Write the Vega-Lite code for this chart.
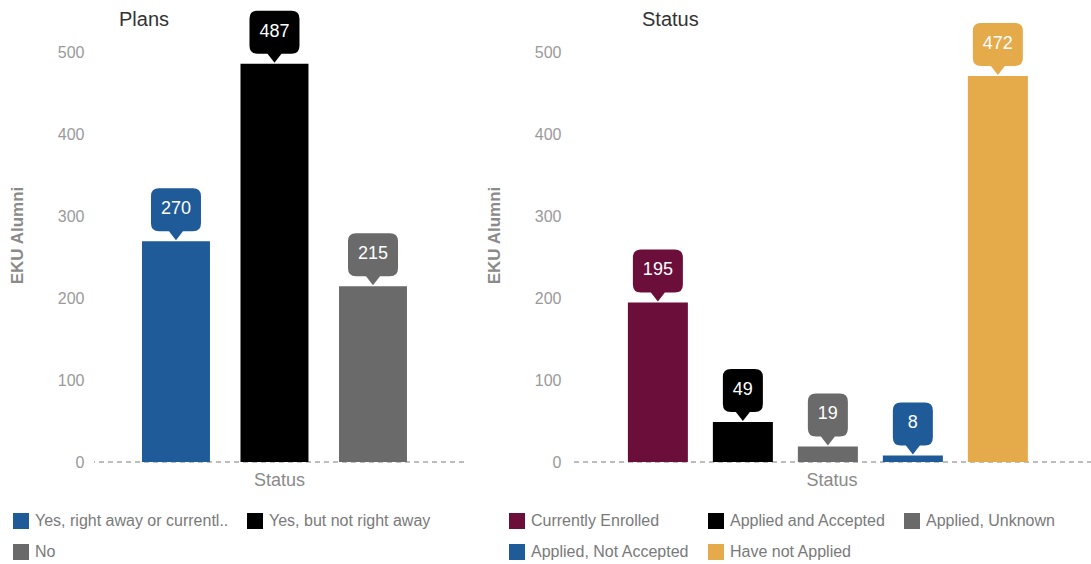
{
  "$schema": "https://vega.github.io/schema/vega-lite/v6.json",
  "background": "white",
  "padding": {"left": 8, "top": 8, "right": 0, "bottom": 0},
  "spacing": 20,
  "resolve": {"scale": {"color": "independent", "x": "independent", "y": "independent"}, "legend": {"color": "independent"}},
  "config": {
    "view": {"stroke": null},
    "font": "Liberation Sans",
    "axis": {"grid": false, "domain": false, "ticks": false, "labelColor": "#9a9a9a", "labelFontSize": 16, "titleColor": "#8a8a8a", "labelFont": "Liberation Sans", "titleFont": "Liberation Sans"},
    "axisY": {"titleFontWeight": "bold", "titleFontSize": 17, "labelPadding": 10, "titlePadding": 31},
    "axisX": {"labels": false, "titleFontWeight": "normal", "titleFontSize": 18, "titlePadding": 9, "titleColor": "#8a8a8a"},
    "legend": {"orient": "none", "direction": "horizontal", "gridAlign": "none", "symbolType": "square", "symbolSize": 256, "symbolStrokeWidth": 0, "symbolOpacity": 1, "labelFontSize": 16, "labelColor": "#7a7a7a", "labelFont": "Liberation Sans", "labelLimit": 400, "labelOffset": 6, "columnPadding": 18, "rowPadding": 15, "title": null},
    "title": {"fontSize": 20, "font": "Liberation Sans", "fontWeight": "normal", "color": "#333333", "anchor": "start", "frame": "group", "offset": -22}
  },
  "hconcat": [
    {
      "title": {"text": "Plans", "dx": 25},
      "width": 370,
      "height": 454,
      "data": {"values": [
        {"status": "Yes, right away or currentl..", "count": 270},
        {"status": "Yes, but not right away", "count": 487},
        {"status": "No", "count": 215}
      ]},
      "layer": [
        {
          "mark": {"type": "rule", "strokeDash": [5, 4], "color": "#bdbdbd", "strokeWidth": 1.5},
          "encoding": {"y": {"datum": 0, "type": "quantitative", "scale": {"domain": [0, 555], "nice": false}, "title": "EKU Alumni"}}
        },
        {
          "mark": {"type": "bar"},
          "encoding": {
            "x": {"field": "status", "type": "nominal", "sort": null, "title": "Status", "scale": {"paddingInner": 0.31, "paddingOuter": 0.533, "align": 0.457}},
            "y": {"field": "count", "type": "quantitative", "scale": {"domain": [0, 555], "nice": false}, "title": "EKU Alumni", "axis": {"values": [0, 100, 200, 300, 400, 500]}},
            "color": {"field": "status", "type": "nominal", "sort": null, "scale": {"domain": ["Yes, right away or currentl..", "Yes, but not right away", "No"], "range": ["#1f5b98", "#000000", "#6a6a6a"]}, "legend": {"columns": 2, "gridAlign": "none", "legendX": -81, "legendY": 505}}
          }
        },
        {
          "mark": {"type": "point", "filled": true, "opacity": 1, "strokeWidth": 0, "size": 2500},
          "encoding": {
            "x": {"field": "status", "type": "nominal", "sort": null, "title": "Status"},
            "y": {"field": "count", "type": "quantitative", "title": "EKU Alumni"},
            "color": {"field": "status", "type": "nominal", "legend": null},
            "shape": {"condition": {"test": "datum.count >= 100", "value": "M0,-0.04 L0.28,-0.4 L0.68,-0.4 Q1,-0.4 1,-0.72 L1,-1.8 Q1,-2.12 0.68,-2.12 L-0.68,-2.12 Q-1,-2.12 -1,-1.8 L-1,-0.72 Q-1,-0.4 -0.68,-0.4 L-0.28,-0.4 Z"}, "value": "M0,-0.04 L0.28,-0.4 L0.48,-0.4 Q0.8,-0.4 0.8,-0.72 L0.8,-1.8 Q0.8,-2.12 0.48,-2.12 L-0.48,-2.12 Q-0.8,-2.12 -0.8,-1.8 L-0.8,-0.72 Q-0.8,-0.4 -0.48,-0.4 L-0.28,-0.4 Z"}
          }
        },
        {
          "mark": {"type": "text", "color": "white", "dy": -32, "fontSize": 18, "baseline": "middle", "align": "center", "font": "Liberation Sans"},
          "encoding": {
            "x": {"field": "status", "type": "nominal", "sort": null, "title": "Status"},
            "y": {"field": "count", "type": "quantitative", "title": "EKU Alumni"},
            "text": {"field": "count", "type": "quantitative"}
          }
        }
      ]
    },
    {
      "title": {"text": "Status", "dx": 71},
      "width": 521,
      "height": 454,
      "data": {"values": [
        {"status": "Currently Enrolled", "count": 195},
        {"status": "Applied and Accepted", "count": 49},
        {"status": "Applied, Unknown", "count": 19},
        {"status": "Applied, Not Accepted", "count": 8},
        {"status": "Have not Applied", "count": 472}
      ]},
      "layer": [
        {
          "mark": {"type": "rule", "strokeDash": [5, 4], "color": "#bdbdbd", "strokeWidth": 1.5},
          "encoding": {"y": {"datum": 0, "type": "quantitative", "scale": {"domain": [0, 555], "nice": false}, "title": "EKU Alumni"}}
        },
        {
          "mark": {"type": "bar"},
          "encoding": {
            "x": {"field": "status", "type": "nominal", "sort": null, "title": "Status", "scale": {"paddingInner": 0.294, "paddingOuter": 0.712, "align": 0.47}},
            "y": {"field": "count", "type": "quantitative", "scale": {"domain": [0, 555], "nice": false}, "title": "EKU Alumni", "axis": {"values": [0, 100, 200, 300, 400, 500]}},
            "color": {"field": "status", "type": "nominal", "sort": null, "scale": {"domain": ["Currently Enrolled", "Applied and Accepted", "Applied, Unknown", "Applied, Not Accepted", "Have not Applied"], "range": ["#6b0f3a", "#000000", "#6a6a6a", "#1f5b98", "#e5aa4a"]}, "legend": {"columns": 3, "gridAlign": "none", "legendX": -62, "legendY": 505}}
          }
        },
        {
          "mark": {"type": "point", "filled": true, "opacity": 1, "strokeWidth": 0, "size": 2500},
          "encoding": {
            "x": {"field": "status", "type": "nominal", "sort": null, "title": "Status"},
            "y": {"field": "count", "type": "quantitative", "title": "EKU Alumni"},
            "color": {"field": "status", "type": "nominal", "legend": null},
            "shape": {"condition": {"test": "datum.count >= 100", "value": "M0,-0.04 L0.28,-0.4 L0.68,-0.4 Q1,-0.4 1,-0.72 L1,-1.8 Q1,-2.12 0.68,-2.12 L-0.68,-2.12 Q-1,-2.12 -1,-1.8 L-1,-0.72 Q-1,-0.4 -0.68,-0.4 L-0.28,-0.4 Z"}, "value": "M0,-0.04 L0.28,-0.4 L0.48,-0.4 Q0.8,-0.4 0.8,-0.72 L0.8,-1.8 Q0.8,-2.12 0.48,-2.12 L-0.48,-2.12 Q-0.8,-2.12 -0.8,-1.8 L-0.8,-0.72 Q-0.8,-0.4 -0.48,-0.4 L-0.28,-0.4 Z"}
          }
        },
        {
          "mark": {"type": "text", "color": "white", "dy": -32, "fontSize": 18, "baseline": "middle", "align": "center", "font": "Liberation Sans"},
          "encoding": {
            "x": {"field": "status", "type": "nominal", "sort": null, "title": "Status"},
            "y": {"field": "count", "type": "quantitative", "title": "EKU Alumni"},
            "text": {"field": "count", "type": "quantitative"}
          }
        }
      ]
    }
  ]
}
